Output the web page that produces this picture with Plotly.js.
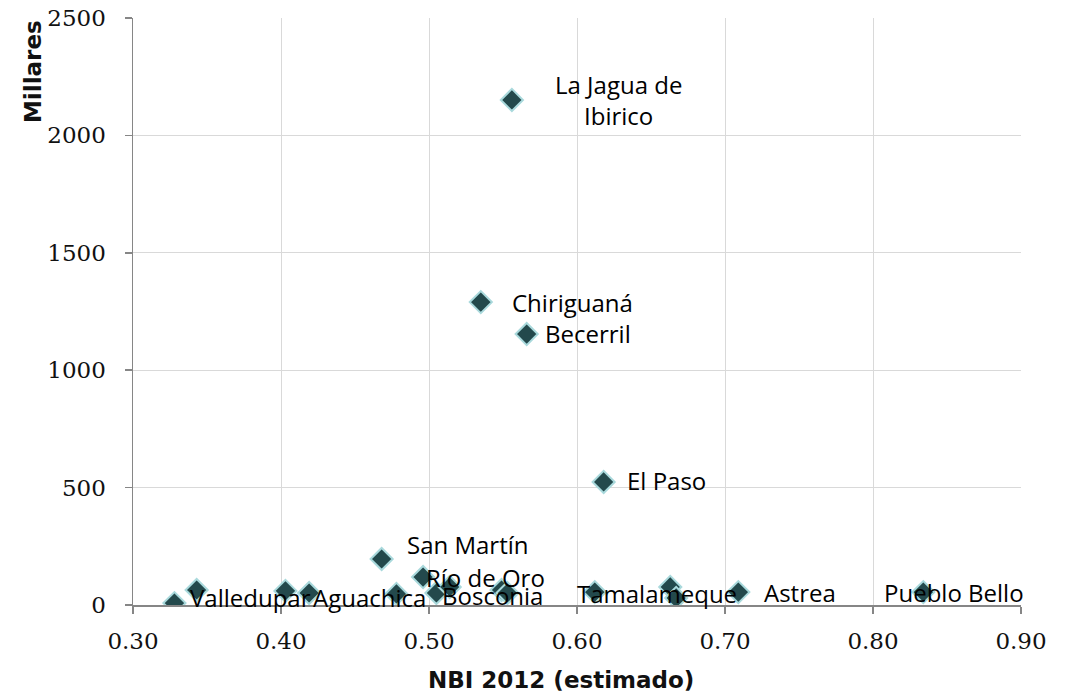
<!DOCTYPE html>
<html>
<head>
<meta charset="utf-8">
<script src="https://cdn.plot.ly/plotly-3.0.1.min.js"></script>
<style>html,body{margin:0;padding:0;background:#fff;}#chart{width:1069px;height:695px;}</style>
</head>
<body>
<div id="chart"></div>
<script>
// NBI 2012 (estimado) per municipality
const nbi = [0.328, 0.343, 0.403, 0.419, 0.468, 0.478, 0.496, 0.505, 0.514, 0.549, 0.553,
             0.535, 0.556, 0.566, 0.618, 0.612, 0.663, 0.667, 0.709, 0.834];
// Millares
const millares = [8, 64, 60, 51, 196, 47, 119, 51, 77, 64, 51,
                  1290, 2151, 1154, 524, 55, 77, 30, 55, 55];
// Labels ('' = unlabeled point)
const nombres = ['Valledupar', '', '', 'Aguachica', 'San Martín', '', 'Río de Oro', 'Bosconia', '', '', '',
                 'Chiriguaná', 'La Jagua de<br>Ibirico', 'Becerril', 'El Paso', 'Tamalameque', '', '', 'Astrea', 'Pueblo Bello'];
const xTicks = [0.3, 0.4, 0.5, 0.6, 0.7, 0.8, 0.9];
const xTickText = ['0.30', '0.40', '0.50', '0.60', '0.70', '0.80', '0.90'];
const yTicks = [0, 500, 1000, 1500, 2000, 2500];
const xTitle = 'NBI 2012 (estimado)';
const yTitle = 'Millares';

// label placement (style): pixel offsets from each point, anchor
const labelStyle = {
  'Valledupar': {dx: 14, dy: -6, anchor: 'left'},
  'Aguachica': {dx: 2, dy: 4, anchor: 'left'},
  'San Martín': {dx: 23, dy: -14, anchor: 'left'},
  'Río de Oro': {dx: 1, dy: 0, anchor: 'left'},
  'Bosconia': {dx: 4, dy: 2, anchor: 'left'},
  'Chiriguaná': {dx: 29, dy: 0, anchor: 'left'},
  'La Jagua de<br>Ibirico': {dx: 107, dy: 0, anchor: 'center'},
  'Becerril': {dx: 16, dy: -1, anchor: 'left'},
  'El Paso': {dx: 21, dy: -1, anchor: 'left'},
  'Tamalameque': {dx: -20, dy: 1, anchor: 'left'},
  'Astrea': {dx: 24, dy: 0, anchor: 'left'},
  'Pueblo Bello': {dx: -41, dy: 0, anchor: 'left'}
};

const annotations = [];
nombres.forEach((n, i) => {
  if (!n) return;
  const s = labelStyle[n];
  annotations.push({
    x: nbi[i], y: millares[i], xref: 'x', yref: 'y',
    text: n, showarrow: false,
    xanchor: s.anchor, yanchor: 'middle', align: 'center',
    xshift: s.dx, yshift: -s.dy,
    font: {family: 'Open Sans, sans-serif', size: 24, color: '#000'}
  });
});

const titleFont = {family: 'DejaVu Sans, sans-serif', size: 23, color: '#111', weight: 'bold'};
annotations.push({
  xref: 'paper', yref: 'paper', x: 0.482, y: -0.1278,
  xanchor: 'center', yanchor: 'middle', showarrow: false,
  text: xTitle, font: titleFont
});
annotations.push({
  xref: 'paper', yref: 'paper', x: -0.1126, y: 0.908,
  xanchor: 'center', yanchor: 'middle', showarrow: false, textangle: -90,
  text: yTitle, font: titleFont
});

const trace = {
  type: 'scatter', mode: 'markers',
  x: nbi, y: millares,
  marker: {symbol: 'diamond', size: 17, color: '#23494c', line: {color: '#a9d9dc', width: 2}},
  hoverinfo: 'skip'
};

const layout = {
  width: 1069, height: 695,
  margin: {l: 133, r: 48, t: 18, b: 90},
  paper_bgcolor: '#fff', plot_bgcolor: '#fff',
  showlegend: false,
  xaxis: {
    range: [0.3, 0.9], tickvals: xTicks, ticktext: xTickText,
    showgrid: true, gridcolor: '#d9d9d9', gridwidth: 1,
    zeroline: false, showline: true, linecolor: '#868686', linewidth: 1.5,
    ticks: 'outside', ticklen: 7, tickcolor: '#868686', tickwidth: 1.5,
    ticklabelstandoff: 8,
    tickfont: {family: 'DejaVu Serif, serif', size: 23, color: '#111'}
  },
  yaxis: {
    range: [0, 2500], tickvals: yTicks,
    showgrid: true, gridcolor: '#d9d9d9', gridwidth: 1,
    zeroline: false, showline: true, linecolor: '#868686', linewidth: 1.5,
    ticks: 'outside', ticklen: 7, tickcolor: '#868686', tickwidth: 1.5,
    ticklabelstandoff: 14,
    tickfont: {family: 'DejaVu Serif, serif', size: 23, color: '#111'}
  },
  annotations: annotations
};

Plotly.newPlot('chart', [trace], layout, {displayModeBar: false, staticPlot: true});
</script>
</body>
</html>
